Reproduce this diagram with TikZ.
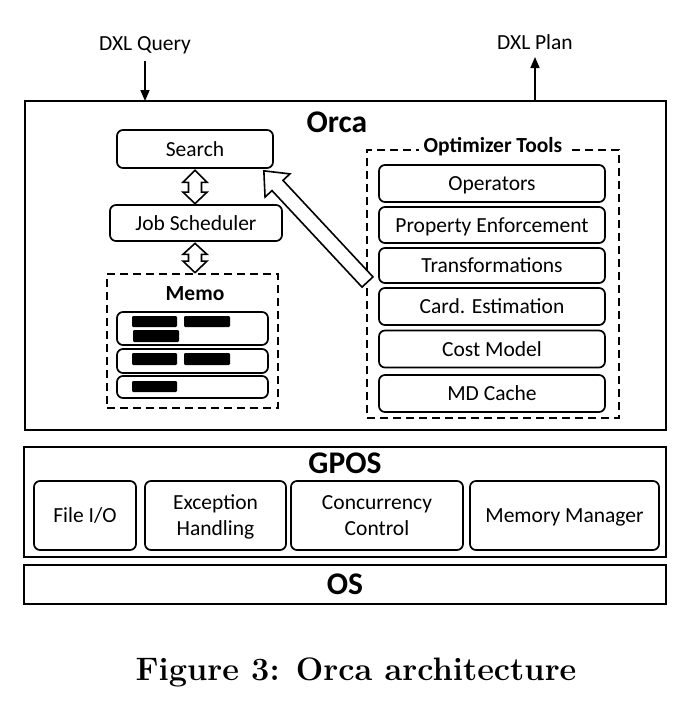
\documentclass[tikz,border=0pt]{standalone}
\usepackage{fontspec}
\newfontfamily\carl{Carlito}
\usetikzlibrary{calc,arrows.meta}
\begin{document}
\begin{tikzpicture}[x=1pt,y=-1pt,
  every node/.style={font=\carl\fontsize{21.5}{24}\selectfont, inner sep=0pt, align=center},
  rbox/.style={draw, line width=1.7pt, rounded corners=6pt, text depth=0pt},
  frame/.style={draw, line width=1.8pt},
  dbox/.style={draw, line width=1.8pt, dash pattern=on 8pt off 5pt},
  hollow/.style={draw, line width=1.6pt, fill=white, line join=miter},
  bar/.style={fill=black, rounded corners=1.2pt},
  title/.style={font=\carl\bfseries\fontsize{31.5}{34}\selectfont},
  subtitle/.style={font=\carl\bfseries\fontsize{21.5}{24}\selectfont},
  flow/.style={line width=1.6pt, -{Triangle[length=11pt,width=9pt]}}
]
\useasboundingbox (0,0) rectangle (678,702);

% ---------- Orca ----------
\node[frame, minimum width=641pt, minimum height=329pt] (orca) at (345.5,265.5) {};
\node[title] (orcat) at (337,122) {Orca};

\node (dxlq) at (145,45) {DXL Query};
\node (dxlp) at (535,42) {DXL Plan};
\coordinate (qin) at (145,101);
\coordinate (pout) at (535,101);
\draw[flow] (145,61) -- (qin);
\draw[flow] (pout) -- (535,57);

\node[rbox, minimum width=156pt, minimum height=38pt] (search) at (195,149) {Search};
\node[rbox, minimum width=172pt, minimum height=36pt] (job) at (196,223) {Job Scheduler};

% Memo
\node[dbox, minimum width=171pt, minimum height=134pt] (memo) at (192.5,341) {};
\node[subtitle] (memot) at (195,294) {Memo};
\node[rbox, minimum width=151pt, minimum height=33pt] (m1) at (192.5,328.5) {};
\node[rbox, minimum width=151pt, minimum height=24pt] (m2) at (192.5,361) {};
\node[rbox, minimum width=151pt, minimum height=22pt] (m3) at (192.5,387) {};
\fill[bar] (132,316) rectangle (177,327);
\fill[bar] (184,316) rectangle (230,327);
\fill[bar] (133,330) rectangle (179,342);
\fill[bar] (132,353) rectangle (177,365);
\fill[bar] (184,353) rectangle (230,365);
\fill[bar] (132,381) rectangle (177,392);

% double arrows
\draw[hollow] let \p1=(search.south), \p2=(job.north) in
  (\x1,\y1-1.5pt) -- (\x1+12pt,\y1-13.5pt) -- (\x1+6.5pt,\y1-13.5pt) -- (\x1+6.5pt,\y2+12pt)
  -- (\x1+12pt,\y2+12pt) -- (\x1,\y2+0.5pt) -- (\x1-12pt,\y2+12pt) -- (\x1-6.5pt,\y2+12pt)
  -- (\x1-6.5pt,\y1-13.5pt) -- (\x1-12pt,\y1-13.5pt) -- cycle;
\draw[hollow] let \p1=(search.south), \p2=(job.south), \p3=(memo.north) in
  (\x1,\y2-1.5pt) -- (\x1+12pt,\y2-12.5pt) -- (\x1+6.5pt,\y2-12.5pt) -- (\x1+6.5pt,\y3+12pt)
  -- (\x1+12pt,\y3+12pt) -- (\x1,\y3+0.5pt) -- (\x1-12pt,\y3+12pt) -- (\x1-6.5pt,\y3+12pt)
  -- (\x1-6.5pt,\y2-12.5pt) -- (\x1-12pt,\y2-12.5pt) -- cycle;

% Optimizer tools
\node[dbox, minimum width=252pt, minimum height=268pt] (opt) at (493,284) {};
\node[subtitle, fill=white, inner xsep=5pt, inner ysep=2pt] (optt) at (493,147) {Optimizer Tools};
\node[rbox, minimum width=226pt, minimum height=37pt] (op) at (492,183.5) {Operators};
\node[rbox, minimum width=226pt, minimum height=36pt] (pe) at (492,225) {Property Enforcement};
\node[rbox, minimum width=226pt, minimum height=35pt] (tr) at (492,265.5) {Transformations};
\node[rbox, minimum width=226pt, minimum height=37pt] (ce) at (492,306.5) {Card. Estimation};
\node[rbox, minimum width=226pt, minimum height=37pt] (cm) at (492,349) {Cost Model};
\node[rbox, minimum width=226pt, minimum height=37pt] (md) at (492,393.5) {MD Cache};

% big hollow arrow from tools to search
\coordinate (tt) at (367.5,282);
\coordinate (hh) at ($(search.south east)+(-10,2)$);
\coordinate (nk) at ($(hh)!20pt!(tt)$);
\draw[hollow] (hh) -- ($(nk)!17pt!90:(hh)$) -- ($(nk)!7.5pt!90:(hh)$)
  -- ($(tt)!7.5pt!90:(hh)$) -- ($(tt)!7.5pt!-90:(hh)$)
  -- ($(nk)!7.5pt!-90:(hh)$) -- ($(nk)!17pt!-90:(hh)$) -- cycle;

% ---------- GPOS ----------
\node[frame, minimum width=642pt, minimum height=110pt] (gpos) at (345,502) {};
\node[title] (gpost) at (345,463) {GPOS};
\node[rbox, minimum width=102pt, minimum height=69pt] (fio) at (85,515.5) {File I/O};
\node[rbox, minimum width=141pt, minimum height=69pt] (exc) at (215.5,515.5) {Exception\\[2pt]Handling};
\node[rbox, minimum width=172pt, minimum height=69pt] (conc) at (377,515.5) {Concurrency\\[2pt]Control};
\node[rbox, minimum width=189pt, minimum height=69pt] (mem) at (564.5,515.5) {Memory Manager};

% ---------- OS ----------
\node[frame, minimum width=642pt, minimum height=39pt] (os) at (345,584.5) {};
\node[title] (ost) at (345,584.5) {OS};

% caption
\node[font=\rmfamily\bfseries\fontsize{32.5}{36}\selectfont] (cap) at (356,672) {Figure 3: Orca architecture};
\end{tikzpicture}
\end{document}
